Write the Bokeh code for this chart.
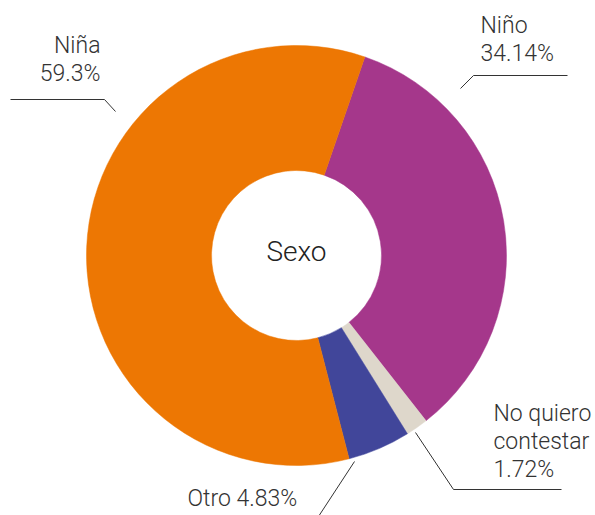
import numpy as np
from bokeh.plotting import figure
from bokeh.models import ColumnDataSource
from bokeh.core.properties import value
from bokeh.embed import file_html
from bokeh.resources import INLINE

# ---- data ----
categories = ["Niño", "No quiero contestar", "Otro", "Niña"]
percents = [34.14, 1.72, 4.83, 59.3]
colors = ["#A5378B", "#DED7CB", "#41469A", "#ED7703"]
label_texts = [["Niño", "34.14%"], ["No quiero", "contestar", "1.72%"], ["Otro 4.83%"], ["Niña", "59.3%"]]
center_title = "Sexo"

# ---- layout (pixel coordinates, y downward) ----
W, H = 595, 515
CX, CY = 296, 255
R_OUT, R_IN = 210, 85
START_DEG = 19.0  # clockwise from top

def Y(py):
    return H - py

p = figure(width=W, height=H, x_range=(0, W), y_range=(0, H),
           output_backend="svg", toolbar_location=None, min_border=0)
p.axis.visible = False
p.grid.visible = False
p.outline_line_color = None
p.background_fill_color = "white"

vals = np.array(percents, dtype=float)
cum = np.concatenate([[0], np.cumsum(vals)]) / vals.sum() * 360.0
starts_cw = START_DEG + cum[:-1]
ends_cw = START_DEG + cum[1:]
src = ColumnDataSource(dict(
    cat=categories,
    start=np.radians(90 - starts_cw),
    end=np.radians(90 - ends_cw),
    color=colors,
))
p.annular_wedge(x=CX, y=Y(CY), inner_radius=R_IN, outer_radius=R_OUT,
                start_angle="start", end_angle="end", direction="clock",
                fill_color="color", line_color="color", line_width=0.5, source=src)

# leader lines
leaders = [
    ([460, 473, 567], [88, 75, 75]),
    ([415, 453, 561], [432, 489, 489]),
    ([354, 318], [461, 516]),
    ([115, 104, 10], [111, 99, 99]),
]
for xs, ys in leaders:
    p.line(xs, [Y(v) for v in ys], line_color="#333333", line_width=1)

# labels
label_pos = [
    (480, [25, 53], "left"),
    (493, [413, 441, 469], "left"),
    (187, [498], "left"),
    (100, [45, 73], "right"),
]
font = value("Roboto Light")
for (x, ys, align), lines in zip(label_pos, label_texts):
    p.text(x=[x] * len(lines), y=[Y(v) for v in ys], text=lines,
           text_font=font, text_font_size="23px", text_color="#333333",
           text_align=align, text_baseline="middle")

p.text(x=[CX], y=[Y(251)], text=[center_title], text_font=font,
       text_font_size="28px", text_color="#222222",
       text_align="center", text_baseline="middle")

open("out.html", "w").write(file_html(p, INLINE))
